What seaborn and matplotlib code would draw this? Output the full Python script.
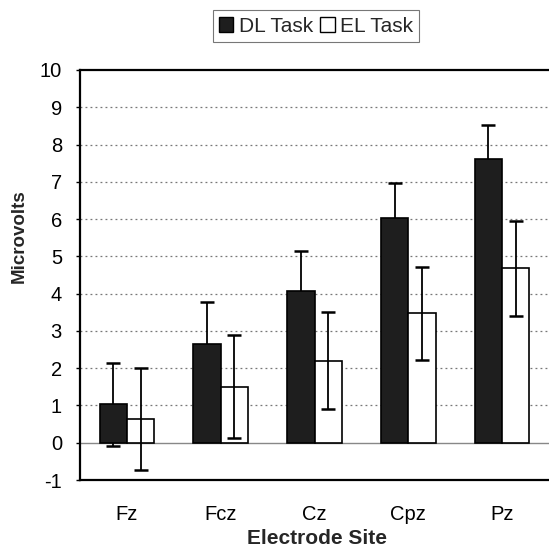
import matplotlib
matplotlib.use("Agg")
import matplotlib.pyplot as plt
from matplotlib.patches import Patch
import seaborn as sns
import pandas as pd

sites = ["Fz", "Fcz", "Cz", "Cpz", "Pz"]
tasks = ["DL Task", "EL Task"]
dl_mean = [1.03, 2.65, 4.07, 6.03, 7.60]
dl_err = [1.12, 1.13, 1.07, 0.95, 0.93]
el_mean = [0.63, 1.50, 2.20, 3.47, 4.68]
el_err = [1.37, 1.38, 1.30, 1.25, 1.27]
y_ticks = list(range(-1, 11))

sns.set_theme(style="white")
plt.rcParams["font.family"] = ["Liberation Sans", "DejaVu Sans"]

df = pd.DataFrame({
    "site": sites * 2,
    "task": [tasks[0]] * len(sites) + [tasks[1]] * len(sites),
    "value": dl_mean + el_mean,
    "err": dl_err + el_err,
})

W, H = 549, 556
dark = "#1e1e1e"
fig = plt.figure(figsize=(W / 100, H / 100), dpi=100)
ax = fig.add_axes([80 / W, 1 - 480 / H, 1 - 80 / W, 410 / H])

# reference lines behind the bars
for y in y_ticks:
    if y == 0:
        ax.axhline(0, color="#888888", lw=1.0, zorder=0.5)
    elif y not in (-1, 10):
        ax.axhline(y, color="#777777", lw=0.9, ls=(0, (1.5, 2.5)), zorder=0.5)

sns.barplot(data=df, x="site", y="value", hue="task", order=sites,
            hue_order=tasks, palette=[dark, "white"], width=0.58, gap=0,
            errorbar=None, edgecolor="black", linewidth=1.2,
            legend=False, ax=ax, zorder=2)

# error bars centred on each bar; the dark bars cover their own whiskers
bars = ax.patches
n = len(sites)
for i, (m, e) in enumerate(zip(dl_mean + el_mean, dl_err + el_err)):
    p = bars[i]
    xc = p.get_x() + p.get_width() / 2
    z = 1.5 if i < n else 3
    ax.errorbar(xc, m, yerr=e, fmt="none", ecolor="black", elinewidth=1.3,
                capsize=5, capthick=1.8, zorder=z)

ax.set_ylim(-1, 10)
ax.set_xlim(-0.5, len(sites) - 0.5)
ax.set_yticks(y_ticks)
ax.set_yticklabels([str(v) for v in y_ticks])
ax.tick_params(axis="y", labelsize=14.5, length=3, width=1, pad=10,
               direction="out", left=True, colors="black")
ax.tick_params(axis="x", labelsize=14.5, length=0, pad=18, colors="black")
for t in ax.get_yticklabels() + ax.get_xticklabels():
    t.set_color("black")

ax.set_ylabel("")
ax.set_xlabel("")
fig.text(19 / W, 1 - 236 / H, "Microvolts", rotation=90, ha="center",
         va="center", fontsize=13.5, fontweight="bold")
fig.text(317 / W, 1 - 538 / H, "Electrode Site", ha="center", va="center",
         fontsize=15, fontweight="bold")

for side in ("left", "top", "bottom"):
    ax.spines[side].set_visible(True)
    ax.spines[side].set_color("black")
    ax.spines[side].set_linewidth(1.6)
ax.spines["right"].set_visible(False)

handles = [Patch(facecolor=dark, edgecolor="black", lw=1.0),
           Patch(facecolor="white", edgecolor="black", lw=1.0)]
leg = fig.legend(handles, tasks, loc="center", bbox_to_anchor=(316 / W, 1 - 26 / H),
                 ncol=2, fontsize=15, frameon=True, fancybox=False,
                 edgecolor="#555555", handlelength=0.7, handleheight=0.7,
                 handletextpad=0.25, columnspacing=0.35, borderpad=0.3,
                 borderaxespad=0)
leg.get_frame().set_linewidth(0.8)

fig.savefig("out.png", dpi=100, facecolor="white")
